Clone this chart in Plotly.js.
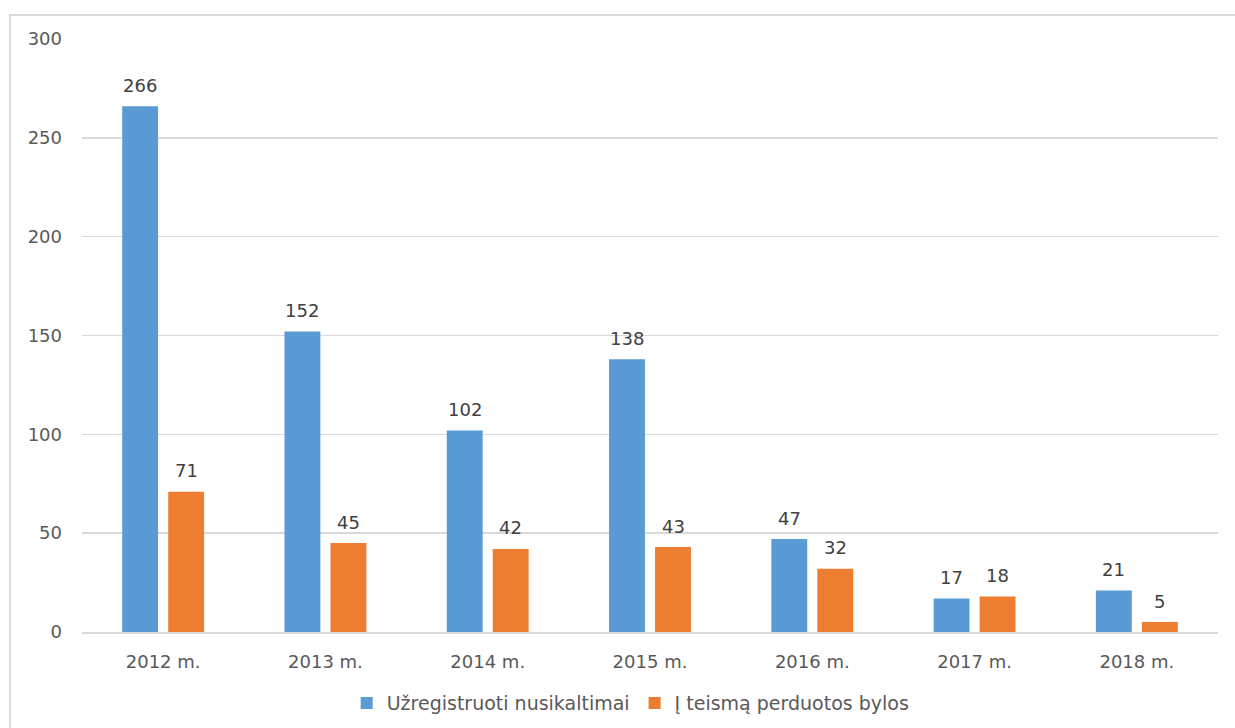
<!DOCTYPE html>
<html>
<head>
<meta charset="utf-8">
<script src="https://cdn.plot.ly/plotly-3.0.1.min.js"></script>
<style>
  html, body { margin: 0; padding: 0; background: #fff; overflow: hidden; }
  #chart { width: 1235px; height: 728px; }
  #frame { position: absolute; left: 9px; top: 14px; width: 1240px; height: 730px;
           border: 2px solid #d9d9d9; pointer-events: none; box-sizing: border-box; }
</style>
</head>
<body>
<div id="chart"></div>
<div id="frame"></div>
<script>
const categories = ["2012 m.", "2013 m.", "2014 m.", "2015 m.", "2016 m.", "2017 m.", "2018 m."];
const registered = [266, 152, 102, 138, 47, 17, 21];
const toCourt = [71, 45, 42, 43, 32, 18, 5];
const seriesNames = ["Užregistruoti nusikaltimai", "Į teismą perduotos bylos"];
const yTicks = [0, 50, 100, 150, 200, 250, 300];

const FONT = "DejaVu Sans, sans-serif";
const BLUE = "#5b9bd5";
const ORANGE = "#ed7d31";

const traces = [
  { type: "bar", name: seriesNames[0], x: categories, y: registered,
    marker: { color: BLUE }, hoverinfo: "x+y" },
  { type: "bar", name: seriesNames[1], x: categories, y: toCourt,
    marker: { color: ORANGE }, hoverinfo: "x+y" }
];

const annotations = [];
[[registered, -23], [toCourt, 23]].forEach(([vals, shift]) => {
  vals.forEach((v, i) => {
    annotations.push({
      x: categories[i], y: v, xref: "x", yref: "y", text: String(v),
      showarrow: false, xshift: shift, yshift: 21, yanchor: "middle",
      font: { family: FONT, size: 18, color: "#404040" }
    });
  });
});

const layout = {
  width: 1235, height: 728,
  margin: { l: 82, r: 17, t: 39, b: 96, autoexpand: false },
  paper_bgcolor: "#fff", plot_bgcolor: "#fff",
  barmode: "group", bargap: 0.433, bargroupgap: 0.22,
  font: { family: FONT, size: 18, color: "#595959" },
  xaxis: { type: "category", showgrid: false, zeroline: false, showline: true,
           linecolor: "#d9d9d9", linewidth: 2, ticks: "", ticklabelstandoff: 12,
           tickfont: { family: FONT, size: 18, color: "#595959" }, fixedrange: true },
  yaxis: { range: [0, 300], tickvals: yTicks, ticktext: yTicks.map(String),
           showgrid: true, gridcolor: "#d9d9d9", gridwidth: 1.5, zeroline: false,
           showline: false, ticks: "", ticklabelstandoff: 19,
           tickfont: { family: FONT, size: 18, color: "#595959" }, fixedrange: true },
  showlegend: true,
  legend: { orientation: "h", x: 0.483, xanchor: "center", y: -0.12, yanchor: "middle",
            font: { family: FONT, size: 19, color: "#595959" }, itemwidth: 30,
            traceorder: "normal" },
  annotations: annotations
};

Plotly.newPlot("chart", traces, layout, { displayModeBar: false, staticPlot: true });
</script>
</body>
</html>
